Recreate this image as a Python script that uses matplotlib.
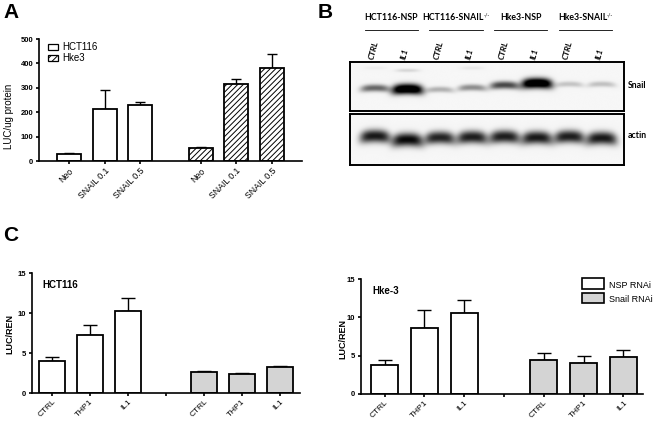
import numpy as np
import matplotlib
matplotlib.use("Agg")
import matplotlib.pyplot as plt
import matplotlib.transforms as mtransforms
from matplotlib.patches import Rectangle
from matplotlib.lines import Line2D

plt.rcParams['font.family'] = ['Liberation Sans', 'DejaVu Sans']
plt.rcParams['hatch.linewidth'] = 0.7

# ---------------- data ----------------
a_cats = ["Neo", "SNAIL 0.1", "SNAIL 0.5"]
a_hct116 = [30, 213, 228]
a_hct116_top = [33, 290, 240]
a_hke3 = [55, 315, 382]
a_hke3_top = [58, 335, 438]

b_groups = ["HCT116-NSP", "HCT116-SNAIL", "Hke3-NSP", "Hke3-SNAIL"]
b_group_sup = ["", "-/-", "", "-/-"]
b_lanes = ["CTRL", "IL1", "CTRL", "IL1", "CTRL", "IL1", "CTRL", "IL1"]
b_snail = [0.45, 1.0, 0.22, 0.33, 0.55, 1.0, 0.16, 0.17]
b_actin = [0.78, 0.84, 0.74, 0.76, 0.76, 0.78, 0.76, 0.78]

c_cats = ["CTRL", "THP1", "IL1"]
c_hct_nsp = [4.0, 7.3, 10.2]
c_hct_nsp_top = [4.5, 8.5, 11.9]
c_hct_snail = [2.6, 2.4, 3.2]
c_hct_snail_top = [2.7, 2.5, 3.4]
c_hke_nsp = [3.8, 8.6, 10.6]
c_hke_nsp_top = [4.5, 10.9, 12.2]
c_hke_snail = [4.5, 4.0, 4.8]
c_hke_snail_top = [5.4, 5.0, 5.7]

# ---------------- layout helpers ----------------
W, H = 661, 425
fig = plt.figure(figsize=(W / 100, H / 100), dpi=100)


def ax_px(l, t, r, b):
    return fig.add_axes([l / W, 1 - b / H, (r - l) / W, (b - t) / H])


def fx(x):
    return x / W


def fy(y):
    return 1 - y / H


def style_axes(ax, lw=1.2):
    for s in ["top", "right"]:
        ax.spines[s].set_visible(False)
    for s in ["left", "bottom"]:
        ax.spines[s].set_linewidth(lw)
    ax.tick_params(direction="out", length=2.5, width=lw, pad=1.5)


def bars_with_err(ax, pos, vals, tops, color, hatch=None, capsize=3.5, lw=1.3):
    ax.bar(pos, vals, width=0.68, color=color, edgecolor="black",
           linewidth=lw, hatch=hatch, zorder=2)
    vals = np.asarray(vals, float)
    err = np.asarray(tops, float) - vals
    ax.errorbar(pos, vals, yerr=[np.zeros_like(err), err], fmt="none",
                ecolor="black", elinewidth=1.0, capsize=capsize,
                capthick=1.0, zorder=1)


# ---------------- Panel A ----------------
axA = ax_px(39, 39, 302, 161)
style_axes(axA)
posA1 = np.arange(3)
posA2 = np.arange(3) + 3.7
bars_with_err(axA, posA1, a_hct116, a_hct116_top, "white")
bars_with_err(axA, posA2, a_hke3, a_hke3_top, "white", hatch="//////")
axA.set_xlim(-0.845, 6.545)
axA.set_ylim(0, 500)
axA.set_yticks([0, 100, 200, 300, 400, 500])
axA.set_xticks(np.concatenate([posA1, posA2]))
axA.set_xticklabels(a_cats + a_cats, rotation=45, ha="right",
                    rotation_mode="anchor", fontsize=6.3)
axA.tick_params(axis="y", labelsize=5.5)
for t in axA.get_yticklabels():
    t.set_fontweight("bold")
fig.text(fx(9.5), fy(116), "LUC/ug protein", rotation=90, ha="center",
         va="center", fontsize=7)
# legend A
fig.patches.append(Rectangle((fx(48), fy(50)), fx(10), 6 / H, transform=fig.transFigure,
                             facecolor="white", edgecolor="black", linewidth=0.9))
fig.patches.append(Rectangle((fx(48), fy(61)), fx(10), 6 / H, transform=fig.transFigure,
                             facecolor="white", edgecolor="black", linewidth=0.9,
                             hatch="/////"))
fig.text(fx(62), fy(47), "HCT116", ha="left", va="center", fontsize=7)
fig.text(fx(62), fy(58), "Hke3", ha="left", va="center", fontsize=7)

# ---------------- Panel B (blot) ----------------
lane_x = np.arange(8)
xl, xr = -0.77, 7.68


def blot(ax, intens, yc, hy, gain, yslope=0.0, extra=None):
    xs = np.linspace(xl, xr, 500)
    ys = np.linspace(0, 1, 150)
    X, Y = np.meshgrid(xs, ys)
    img = np.full_like(X, 0.035)
    for i, a in enumerate(intens):
        dx = X - lane_x[i]
        yy = yc[i] + yslope * dx ** 2
        w = 0.42 + 0.06 * a
        h = hy * (0.55 + 0.7 * a)
        img += gain * a * np.exp(-(np.abs(dx) / w) ** 4) * np.exp(-(np.abs(Y - yy) / h) ** 2.2)
    if extra is not None:
        for (xi, yi, a) in extra:
            img += a * np.exp(-(np.abs(X - xi) / 0.36) ** 3) * np.exp(-((Y - yi) / 0.035) ** 2)
    img = np.clip(img, 0, 1)
    ax.imshow(1 - img, cmap="gray", vmin=0, vmax=1, extent=[xl, xr, 1, 0],
              origin="upper", aspect="auto", interpolation="bilinear")
    ax.set_xlim(xl, xr)
    ax.set_ylim(1, 0)
    ax.set_xticks([])
    ax.set_yticks([])
    for s in ax.spines.values():
        s.set_linewidth(1.4)


axB1 = ax_px(350, 62, 624, 111)
snail_y = [0.53, 0.55, 0.56, 0.52, 0.47, 0.43, 0.45, 0.45]
blot(axB1, b_snail, snail_y, 0.085, 1.25, yslope=0.12,
     extra=[(1, 0.17, 0.13), (3, 0.12, 0.06), (0, 0.12, 0.04)])
axB2 = ax_px(350, 114, 624, 165)
actin_y = [0.43, 0.5, 0.46, 0.45, 0.44, 0.46, 0.44, 0.47]
blot(axB2, b_actin, actin_y, 0.115, 1.12, yslope=0.18)

fig.text(fx(628), fy(86), "Snail", ha="left", va="center", fontsize=6.3,
         fontweight="bold", family=["Lato", "DejaVu Sans"])
fig.text(fx(628), fy(136), "actin", ha="left", va="center", fontsize=6.3,
         fontweight="bold", family=["Lato", "DejaVu Sans"])

# group headers and lines (x in lane units via axB1 data transform)
trans = mtransforms.blended_transform_factory(axB1.transData, fig.transFigure)
for g, name in enumerate(b_groups):
    xc = 2 * g + 0.5
    shift = -0.1 if b_group_sup[g] else 0.0
    t = axB1.text(xc + shift, fy(18), name, transform=trans, ha="center", va="center",
                  fontsize=6.3, fontweight="bold", family=["Lato", "DejaVu Sans"],
                  clip_on=False)
    if b_group_sup[g]:
        axB1.annotate(b_group_sup[g], xy=(1.0, 0.8), xycoords=t, ha="left",
                      va="center", fontsize=3.8, family=["Lato", "DejaVu Sans"],
                      annotation_clip=False)
    axB1.add_line(Line2D([xc - 0.82, xc + 0.82], [fy(30), fy(30)], transform=trans,
                         color="black", linewidth=0.6, clip_on=False))
for i, name in enumerate(b_lanes):
    axB1.text(lane_x[i] - 0.12, fy(59), name, transform=trans, ha="left", va="center",
              rotation=75, rotation_mode="anchor", fontsize=6, fontweight="bold",
              style="italic", family=["Lato", "DejaVu Sans"], clip_on=False)

# ---------------- Panel C ----------------
def panel_c(box, xlim, nsp, nsp_top, sn, sn_top, title, ylabel_xy):
    ax = ax_px(*box)
    style_axes(ax)
    p1 = np.arange(3)
    p2 = np.arange(3) + 4
    bars_with_err(ax, p1, nsp, nsp_top, "white", capsize=5.2)
    bars_with_err(ax, p2, sn, sn_top, "#d4d4d4", capsize=5.2)
    ax.set_xlim(*xlim)
    ax.set_ylim(0, 15)
    ax.set_yticks([0, 5, 10, 15])
    ax.set_xticks([0, 1, 2, 3, 4, 5, 6])
    ax.set_xticklabels(c_cats + [""] + c_cats, rotation=45, ha="right",
                       rotation_mode="anchor", fontsize=6)
    ax.tick_params(axis="y", labelsize=5.5)
    for t in ax.get_yticklabels():
        t.set_fontweight("bold")
    ax.text(0.04, 0.9, title, transform=ax.transAxes, ha="left", va="center",
            fontsize=7, fontweight="bold")
    fig.text(fx(ylabel_xy[0]), fy(ylabel_xy[1]), "LUC/REN", rotation=90,
             ha="center", va="center", fontsize=6.5, fontweight="bold")
    return ax


axC1 = panel_c((32, 273, 300, 393), (-0.526, 6.526), c_hct_nsp, c_hct_nsp_top,
               c_hct_snail, c_hct_snail_top, "HCT116", (10, 334))
axC2 = panel_c((361, 279, 643, 394), (-0.59, 6.49), c_hke_nsp, c_hke_nsp_top,
               c_hke_snail, c_hke_snail_top, "Hke-3", (343, 339))

# legend C
fig.patches.append(Rectangle((fx(582), fy(289)), fx(22), 11 / H, transform=fig.transFigure,
                             facecolor="white", edgecolor="black", linewidth=1.2))
fig.patches.append(Rectangle((fx(582), fy(303)), fx(22), 10 / H, transform=fig.transFigure,
                             facecolor="#d4d4d4", edgecolor="black", linewidth=1.2))
fig.text(fx(609), fy(285), "NSP RNAi", ha="left", va="center", fontsize=6.5)
fig.text(fx(609), fy(299), "Snail RNAi", ha="left", va="center", fontsize=6.5)

# panel letters
fig.text(fx(3), fy(13), "A", ha="left", va="center", fontsize=15, fontweight="bold")
fig.text(fx(318), fy(13), "B", ha="left", va="center", fontsize=15, fontweight="bold")
fig.text(fx(3), fy(235), "C", ha="left", va="center", fontsize=15, fontweight="bold")

fig.savefig("out.png", dpi=100)
